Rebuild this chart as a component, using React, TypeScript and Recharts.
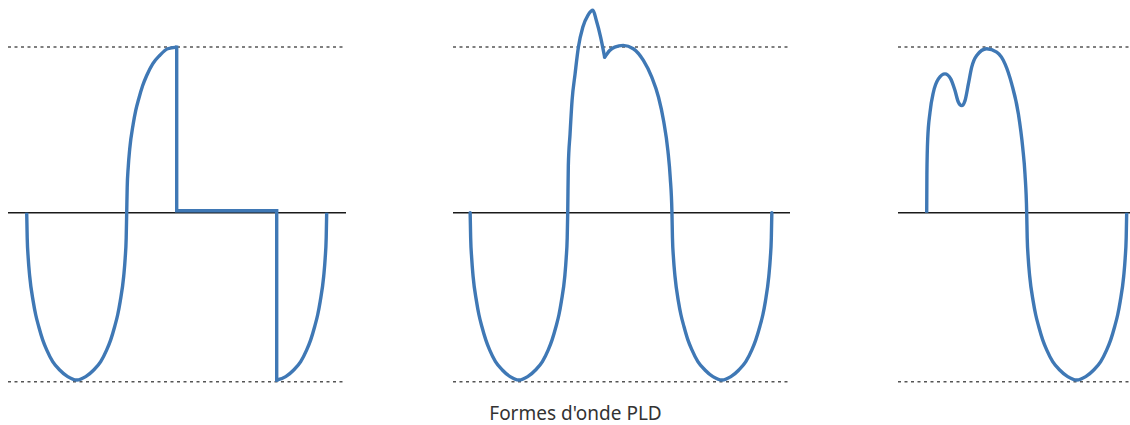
import React from 'react';
import { LineChart, Line, XAxis, YAxis, ReferenceLine } from 'recharts';

// time in ms (10 px per ms), value relative to the peak
const p1WaveT = [0, 0.05, 0.15, 0.3, 0.65, 0.9, 1.2, 1.6, 2, 2.6, 3.3, 4.1, 5, 5.9, 6.7, 7.4, 8, 8.4, 8.8, 9.1, 9.35, 9.7, 9.85, 9.95, 10, 10.05, 10.15, 10.3, 10.65, 10.9, 11.2, 11.6, 12, 12.6, 13.3, 14.1, 15];
const p1WaveV = [0, -0.15, -0.27, -0.38, -0.53, -0.61, -0.68, -0.76, -0.82, -0.89, -0.94, -0.98, -1, -0.98, -0.94, -0.89, -0.82, -0.76, -0.68, -0.61, -0.53, -0.38, -0.27, -0.15, 0, 0.15, 0.27, 0.38, 0.53, 0.61, 0.68, 0.76, 0.82, 0.89, 0.94, 0.98, 0.99];
const p1StepT = [15, 15, 25, 25];
const p1StepV = [0.99, 0.012, 0.012, -1];
const p1TailT = [25, 25.9, 26.7, 27.4, 28, 28.4, 28.8, 29.1, 29.35, 29.7, 29.85, 29.95, 30];
const p1TailV = [-1, -0.98, -0.94, -0.89, -0.82, -0.76, -0.68, -0.61, -0.53, -0.38, -0.27, -0.15, 0];

const p2LeadT = [0, 0.05, 0.15, 0.29, 0.63, 0.87, 1.16, 1.55, 1.93, 2.51, 3.19, 3.96, 4.83, 5.7, 6.48, 7.16, 7.74, 8.12, 8.51, 8.8, 9.04, 9.38, 9.52, 9.62, 9.67, 9.73, 9.9, 10.1, 10.4, 10.73, 11.17, 11.67, 12.17, 12.5, 12.93, 13.33];
const p2LeadV = [0, -0.15, -0.27, -0.38, -0.53, -0.61, -0.68, -0.76, -0.82, -0.89, -0.94, -0.98, -1, -0.98, -0.94, -0.89, -0.82, -0.76, -0.68, -0.61, -0.53, -0.38, -0.27, -0.15, 0, 0.28, 0.47, 0.67, 0.83, 0.99, 1.11, 1.18, 1.21, 1.15, 1.05, 0.93];
const p2RestT = [13.33, 13.83, 14.33, 15.17, 16.17, 17.17, 18, 18.67, 19.17, 19.6, 19.83, 20, 20.05, 20.15, 20.3, 20.64, 20.89, 21.19, 21.58, 21.98, 22.57, 23.27, 24.06, 24.95, 25.84, 26.63, 27.32, 27.92, 28.31, 28.71, 29.01, 29.26, 29.6, 29.75, 29.85, 29.9];
const p2RestV = [0.93, 0.97, 0.99, 1, 0.98, 0.91, 0.81, 0.69, 0.55, 0.37, 0.21, 0, -0.15, -0.27, -0.38, -0.53, -0.61, -0.68, -0.76, -0.82, -0.89, -0.94, -0.98, -1, -0.98, -0.94, -0.89, -0.82, -0.76, -0.68, -0.61, -0.53, -0.38, -0.27, -0.15, 0];

const p3T = [0, 0.02, 0.1, 0.33, 0.67, 1.17, 1.83, 2.4, 2.83, 3.17, 3.5, 3.83, 4.17, 4.5, 5, 6, 7, 7.83, 8.5, 9.17, 9.6, 9.83, 10, 10.05, 10.15, 10.3, 10.65, 10.9, 11.2, 11.6, 12, 12.6, 13.3, 14.1, 15, 15.9, 16.7, 17.4, 18, 18.4, 18.8, 19.1, 19.35, 19.7, 19.85, 19.95, 20];
const p3V = [0, 0.23, 0.44, 0.6, 0.72, 0.8, 0.83, 0.8, 0.73, 0.66, 0.64, 0.67, 0.77, 0.87, 0.94, 0.98, 0.96, 0.89, 0.77, 0.59, 0.39, 0.23, 0, -0.15, -0.27, -0.38, -0.53, -0.61, -0.68, -0.76, -0.82, -0.89, -0.94, -0.98, -1, -0.98, -0.94, -0.89, -0.82, -0.76, -0.68, -0.61, -0.53, -0.38, -0.27, -0.15, 0];

const title = "Formes d'onde PLD";

const BLUE = '#3f78b5';
const H = 425;
const Y_DOMAIN: [number, number] = [-1.269, 1.2714];

const zip = (t: number[], v: number[]) => t.map((x, i) => ({ t: x, v: v[i] }));

type Seg = { data: { t: number; v: number }[]; type: 'monotone' | 'linear'; cap: 'butt' | 'round' | 'square' };

const Panel = ({ left, width, domain, series }: { left: number; width: number; domain: [number, number]; series: Seg[] }) => (
	<div style={{ position: 'absolute', left, top: 0 }}>
		<LineChart width={width} height={H} margin={{ top: 0, right: 0, bottom: 0, left: 0 }}>
			<XAxis type='number' dataKey='t' domain={domain} allowDataOverflow hide />
			<YAxis type='number' domain={Y_DOMAIN} allowDataOverflow hide />
			<ReferenceLine y={0.99} stroke='#555' strokeWidth={1.5} strokeDasharray='3 3.5' />
			<ReferenceLine y={-1.01} stroke='#555' strokeWidth={1.5} strokeDasharray='3 3.5' />
			<ReferenceLine y={0} stroke='#1a1a1a' strokeWidth={1.5} />
			{series.map((s, i) => (
				<Line
					key={i}
					data={s.data}
					dataKey='v'
					type={s.type}
					stroke={BLUE}
					strokeWidth={3.4}
					strokeLinecap={s.cap}
					dot={false}
					activeDot={false}
					isAnimationActive={false}
				/>
			))}
		</LineChart>
	</div>
);

export default function App() {
	return (
		<div style={{ position: 'absolute', left: 0, top: 0, width: 1130, height: H, background: '#fff' }}>
			<Panel
				left={8}
				width={338}
				domain={[-1.87, 31.93]}
				series={[
					{ data: zip(p1WaveT, p1WaveV), type: 'monotone', cap: 'butt' },
					{ data: zip(p1StepT, p1StepV), type: 'linear', cap: 'square' },
					{ data: zip(p1TailT, p1TailV), type: 'monotone', cap: 'butt' },
				]}
			/>
			<Panel
				left={453}
				width={337}
				domain={[-1.7, 31.7]}
				series={[
					{ data: zip(p2LeadT, p2LeadV), type: 'monotone', cap: 'round' },
					{ data: zip(p2RestT, p2RestV), type: 'monotone', cap: 'round' },
				]}
			/>
			<Panel
				left={898}
				width={232}
				domain={[-2.87, 20.33]}
				series={[{ data: zip(p3T, p3V), type: 'monotone', cap: 'butt' }]}
			/>
			<svg width={1130} height={H} style={{ position: 'absolute', left: 0, top: 0, pointerEvents: 'none' }}>
				<text x={575.5} y={420} textAnchor='middle' fontFamily='"Noto Sans", sans-serif' fontSize={19} fill='#333'>
					{title}
				</text>
			</svg>
		</div>
	);
}
